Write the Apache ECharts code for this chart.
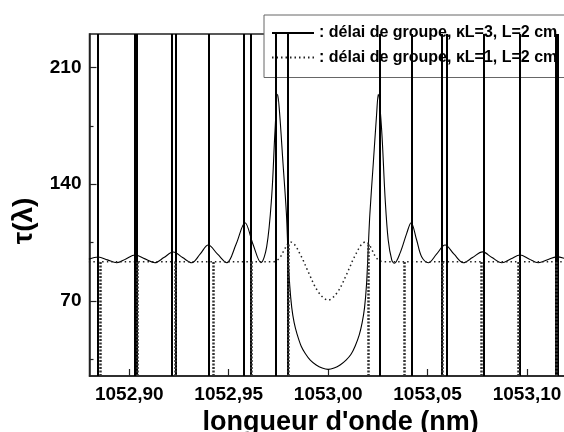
<!DOCTYPE html>
<html>
<head>
<meta charset="utf-8">
<script src="https://cdn.jsdelivr.net/npm/echarts@6/dist/echarts.min.js"></script>
<style>html,body{margin:0;padding:0;background:#fff}#c{width:564px;height:432px}</style>
</head>
<body>
<div id="c"></div>
<script>
// ---- data ----
const seriesNames = [': délai de groupe, \u03baL=3, L=2 cm', ': délai de groupe, \u03baL=1, L=2 cm'];
const xTicks = [1052.90, 1052.95, 1053.00, 1053.05, 1053.10];
const yTicks = [70, 140, 210];
const yMinorTicks = [35, 105, 175];

// kL = 3 (solid) : wavelength (nm), group delay
const solidX = [1052.8797,1052.8844,1052.8890,1052.8937,1052.8983,1052.9029,1052.9079,1052.9129,1052.9174,1052.9221,
  1052.9268,1052.9314,1052.9356,1052.9397,1052.9444,1052.9490,1052.9537,1052.9582,1052.9622,1052.9662,
  1052.9691,1052.9716,1052.9733,1052.9746,1052.9756,1052.9773,1052.9790,1052.9799,1052.9807,1052.9817,
  1052.9829,1052.9844,1052.9864,1052.9885,1052.9910,1052.9940,1052.9970,1053.0000,
  1053.0030,1053.0060,1053.0090,1053.0115,1053.0136,1053.0156,1053.0171,1053.0183,1053.0193,1053.0201,
  1053.0210,1053.0227,1053.0244,1053.0252,1053.0269,1053.0286,1053.0302,1053.0320,1053.0333,1053.0361,
  1053.0395,1053.0417,1053.0445,1053.0470,1053.0504,1053.0545,1053.0588,1053.0633,1053.0680,1053.0726,
  1053.0776,1053.0824,1053.0873,1053.0920,1053.0965,1053.1010,1053.1057,1053.1103,1053.1149,1053.1200];
const solidY = [95.0,96.3,94.6,92.9,95.2,97.5,95.2,92.9,96.0,99.3,
  96.0,92.9,98.0,103.5,98.0,92.9,104.0,116.9,104.0,92.9,
  102.5,132.5,172.5,193.9,182.5,152.5,122.5,96.0,79.0,66.0,
  57.0,50.0,43.0,38.5,34.5,31.6,29.8,29.0,
  29.8,31.6,34.5,38.0,43.0,49.5,57.0,66.0,80.0,100.0,
  122.5,152.5,182.5,193.9,172.5,132.5,106.5,94.5,92.6,98.5,
  110.5,116.9,106.5,96.5,92.9,98.0,103.5,98.0,92.9,96.0,
  99.4,96.0,92.9,95.3,97.5,95.2,92.9,94.7,96.4,95.0];

// kL = 1 (dotted)
const dottedX = [1052.8797,1052.9200,1052.9600,1052.9718,1052.9739,1052.9759,1052.9779,1052.9796,1052.9811,1052.9829,
  1052.9844,1052.9859,1052.9874,1052.9892,1052.9909,1052.9930,1052.9950,1052.9975,1053.0000,
  1053.0025,1053.0050,1053.0070,1053.0091,1053.0108,1053.0126,1053.0141,1053.0156,1053.0171,1053.0189,
  1053.0204,1053.0221,1053.0241,1053.0261,1053.0282,1053.0600,1053.1000,1053.1200];
const dottedY = [93.5,93.5,93.5,93.5,94.0,96.3,100.5,104.0,105.3,104.0,
  101.5,98.0,94.5,89.5,85.0,79.5,75.5,72.0,70.5,
  72.2,75.8,80.0,85.5,90.0,95.0,98.5,101.8,104.2,105.4,
  104.2,100.5,96.0,94.0,93.5,93.5,93.5,93.5];

// vertical jumps of the kL=3 curve (full height)
const solidSpikesX = [1052.8841,1052.9029,1052.9039,1052.9216,1052.9235,1052.9399,1052.9578,1052.9609,1052.9736,1052.9797,
  1053.0259,1053.0422,1053.0573,1053.0594,1053.0780,1053.0965,1053.1143,1053.1152];
// downward jumps of the kL=1 curve (from bottom to curve)
const dottedSpikesX = [1052.8853,1052.9040,1052.9233,1052.9422,1052.9612,1052.9797,1053.0200,1053.0384,1053.0573,1053.0769,1053.0955,1053.1146];
const dottedSpikesTop = [93.5,93.5,93.5,93.5,93.5,104.0,104.3,93.5,93.5,93.5,93.5,93.5];

const xMin = 1052.88, xMax = 1053.12, yMin = 25, yMax = 230;

// ---- chart ----
const font = '"Liberation Sans", Arial, sans-serif';
const zip = (a, b) => a.map((v, i) => [v, b[i]]);
const fmt = v => v.toFixed(2).replace('.', ',');

const chart = echarts.init(document.getElementById('c'), null, {renderer: 'canvas'});
chart.setOption({
  animation: false,
  backgroundColor: '#fff',
  grid: {left: 89.5, top: 34, width: 477.3, height: 342, show: true, borderColor: '#222', borderWidth: 1.5,
    backgroundColor: 'transparent', containLabel: false, outerBoundsMode: 'none'},
  legend: {
    orient: 'vertical', left: 264, top: 15,
    backgroundColor: '#fff', borderColor: '#666', borderWidth: 1,
    padding: [10, 40, 12, 7], itemWidth: 42, itemHeight: 14, itemGap: 8.5,
    itemStyle: {color: 'rgba(0,0,0,0)', borderColor: 'rgba(0,0,0,0)', borderWidth: 0, opacity: 0},
    textStyle: {fontFamily: font, fontWeight: 'bold', fontSize: 16, color: '#000'},
    data: seriesNames
  },
  xAxis: {
    type: 'value', min: xMin, max: xMax,
    name: 'longueur d\'onde (nm)', nameLocation: 'middle', nameGap: 30,
    nameTextStyle: {fontFamily: font, fontWeight: 'bold', fontSize: 27, color: '#000', padding: [0, 0, 0, 25]},
    axisLine: {show: true, lineStyle: {color: '#222', width: 1.5}},
    axisTick: {show: true, inside: true, length: 7, customValues: xTicks, lineStyle: {color: '#222', width: 1.2}},
    axisLabel: {show: true, customValues: xTicks, formatter: fmt, margin: 9, fontFamily: font, fontWeight: 'bold', fontSize: 19, color: '#000'},
    splitLine: {show: false}
  },
  yAxis: [{
    type: 'value', min: yMin, max: yMax,
    name: '\u03c4(\u03bb)', nameLocation: 'middle', nameGap: 51,
    nameTextStyle: {fontFamily: font, fontWeight: 'bold', fontSize: 28, color: '#000', padding: [0, 32, 0, 0]},
    axisLine: {show: true, lineStyle: {color: '#222', width: 1.5}},
    axisTick: {show: true, inside: true, length: 7, customValues: yTicks, lineStyle: {color: '#222', width: 1.2}},
    axisLabel: {show: true, customValues: yTicks, margin: 8, fontFamily: font, fontWeight: 'bold', fontSize: 19, color: '#000'},
    splitLine: {show: false}
  }, {
    type: 'value', min: yMin, max: yMax, position: 'left',
    axisLine: {show: false},
    axisTick: {show: true, inside: true, length: 4, customValues: yMinorTicks, lineStyle: {color: '#222', width: 1.2}},
    axisLabel: {show: false},
    splitLine: {show: false}
  }],
  series: [{
    name: seriesNames[0], type: 'line', yAxisIndex: 0,
    data: zip(solidX, solidY), showSymbol: false, symbol: 'none', smooth: 0.35, clip: true,
    lineStyle: {color: '#000', width: 1.1, type: 'solid'}, itemStyle: {color: '#000'},
    markLine: {
      silent: true, precision: 5, symbol: ['none', 'none'], label: {show: false},
      lineStyle: {color: '#000', width: 2, type: 'solid'},
      data: solidSpikesX.map(x => ({xAxis: x}))
    }
  }, {
    name: seriesNames[1], type: 'line', yAxisIndex: 0,
    data: zip(dottedX, dottedY), showSymbol: false, symbol: 'none', smooth: 0.35, clip: true,
    lineStyle: {color: '#222', width: 1.5, type: [1.5, 3]}, itemStyle: {color: '#222'},
    markLine: {
      silent: true, precision: 5, symbol: ['none', 'none'], label: {show: false},
      lineStyle: {color: '#333', width: 2.5, type: [2, 1.5]},
      data: dottedSpikesX.map((x, i) => [{coord: [x, yMin]}, {coord: [x, dottedSpikesTop[i]]}])
    }
  }]
});
</script>
</body>
</html>
